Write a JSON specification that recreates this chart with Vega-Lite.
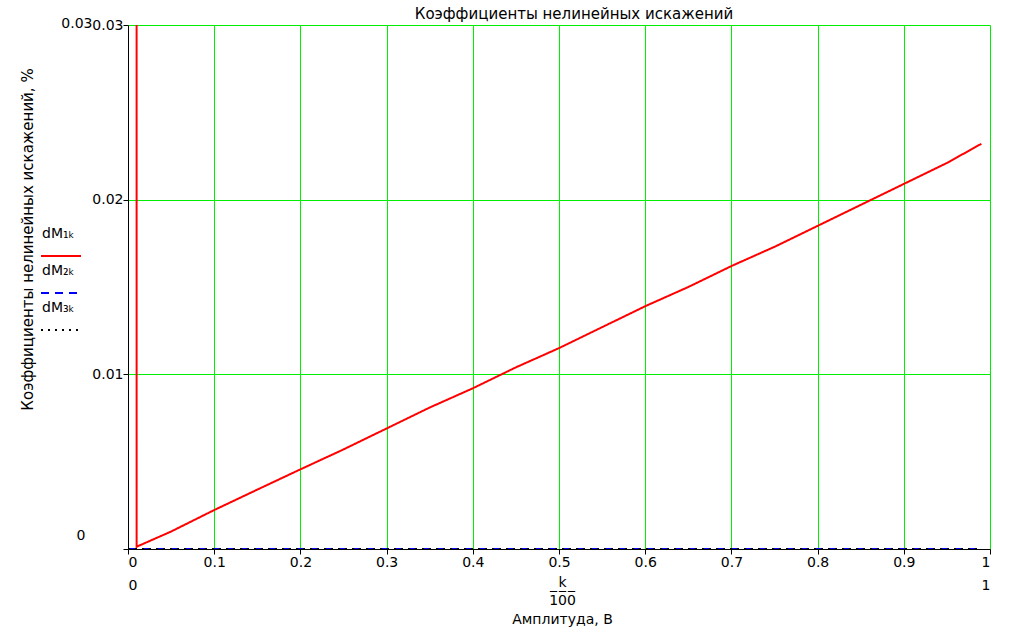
{
  "$schema": "https://vega.github.io/schema/vega-lite/v6.json",
  "width": 862,
  "height": 524,
  "autosize": {"type": "none"},
  "padding": {"left": 128, "top": 25, "right": 29, "bottom": 80},
  "background": "white",
  "config": {
    "view": {"stroke": null},
    "font": "DejaVu Sans",
    "style": {"guide-label": {"lineHeight": 44}},
    "axis": {"labelFont": "DejaVu Sans", "labelFontSize": 14, "labelColor": "black", "titleFont": "DejaVu Sans", "titleFontSize": 14, "titleFontWeight": "normal", "titleColor": "black", "domainColor": "black", "tickColor": "black"}
  },
  "title": {"text": "Коэффициенты нелинейных искажений", "font": "DejaVu Sans", "fontSize": 15, "fontWeight": "normal", "color": "black", "offset": 4, "dx": 15, "dy": 10},
  "data": {"values": [
    {"series": "dM1", "x": 0.0095, "y": 1},
    {"series": "dM1", "x": 0.01, "y": 0.00013},
    {"series": "dM1", "x": 0.05, "y": 0.0010},
    {"series": "dM1", "x": 0.1, "y": 0.00223},
    {"series": "dM1", "x": 0.15, "y": 0.0034},
    {"series": "dM1", "x": 0.2, "y": 0.00456},
    {"series": "dM1", "x": 0.25, "y": 0.0057},
    {"series": "dM1", "x": 0.3, "y": 0.0069},
    {"series": "dM1", "x": 0.35, "y": 0.0081},
    {"series": "dM1", "x": 0.4, "y": 0.0092},
    {"series": "dM1", "x": 0.45, "y": 0.0104},
    {"series": "dM1", "x": 0.5, "y": 0.0115},
    {"series": "dM1", "x": 0.55, "y": 0.0127},
    {"series": "dM1", "x": 0.6, "y": 0.0139},
    {"series": "dM1", "x": 0.65, "y": 0.0150},
    {"series": "dM1", "x": 0.7, "y": 0.0162},
    {"series": "dM1", "x": 0.75, "y": 0.0173},
    {"series": "dM1", "x": 0.8, "y": 0.0185},
    {"series": "dM1", "x": 0.85, "y": 0.0197},
    {"series": "dM1", "x": 0.9, "y": 0.0209},
    {"series": "dM1", "x": 0.95, "y": 0.0221},
    {"series": "dM1", "x": 0.99, "y": 0.0232},
    {"series": "dM2", "x": 0.0, "y": 0},
    {"series": "dM2", "x": 0.99, "y": 0},
    {"series": "dM3", "x": 0.0, "y": 0},
    {"series": "dM3", "x": 0.99, "y": 0}
  ]},
  "layer": [
    {
      "mark": {"type": "line", "clip": true, "strokeWidth": 2},
      "encoding": {
        "x": {"field": "x", "type": "quantitative", "scale": {"domain": [0, 1], "nice": false, "zero": false},
          "axis": {"values": [0, 0.1, 0.2, 0.3, 0.4, 0.5, 0.6, 0.7, 0.8, 0.9, 1], "format": ".1~f", "tickSize": 5, "labelPadding": 1, "grid": true, "gridColor": "#00ee00", "gridWidth": 1, "gridOpacity": 1,
            "title": ["k", "1̅0̅0̅", "Амплитуда, В"], "titleX": 434, "titleY": 26, "titleBaseline": "top", "titleAlign": "center", "titleAnchor": null, "titleLineHeight": 18.5}},
        "y": {"field": "y", "type": "quantitative", "scale": {"domain": [0, 0.03], "nice": false, "zero": false},
          "axis": {"values": [0, 0.01, 0.02, 0.03], "labelExpr": "datum.value == 0 ? '' : format(datum.value, '.2f')", "tickSize": 5, "labelPadding": 0, "grid": true, "gridColor": "#00ee00", "gridWidth": 1, "gridOpacity": 1,
            "title": "Коэффициенты нелинейных искажений, %", "titleFontSize": 15, "titleX": -101, "titleY": 214, "titleAngle": 270, "titleAlign": "center", "titleBaseline": "middle", "titleAnchor": null}},
        "color": {"field": "series", "type": "nominal", "scale": {"domain": ["dM1", "dM2", "dM3"], "range": ["#ff0000", "#0000ff", "#000000"]},
          "legend": {"title": null, "orient": "none", "legendX": -88, "legendY": 210, "symbolType": "stroke", "symbolSize": 1600, "symbolStrokeWidth": 2, "labelOffset": -40, "labelBaseline": "line-bottom", "labelFont": "DejaVu Sans", "labelFontSize": 14, "labelColor": "black", "rowPadding": 4,
            "labelExpr": "datum.value == 'dM1' ? 'dM₁ₖ' : datum.value == 'dM2' ? 'dM₂ₖ' : 'dM₃ₖ'"}},
        "strokeDash": {"field": "series", "type": "nominal", "scale": {"domain": ["dM1", "dM2", "dM3"], "range": [[1, 0], [8, 6], [2, 5]]},
          "legend": {"title": null, "orient": "none", "legendX": -88, "legendY": 210, "symbolType": "stroke", "symbolSize": 1600, "symbolStrokeWidth": 2, "labelOffset": -40, "labelBaseline": "line-bottom", "labelFont": "DejaVu Sans", "labelFontSize": 14, "labelColor": "black", "rowPadding": 4,
            "labelExpr": "datum.value == 'dM1' ? 'dM₁ₖ' : datum.value == 'dM2' ? 'dM₂ₖ' : 'dM₃ₖ'"}}
      }
    },
    {
      "transform": [{"filter": "datum.series == 'dM3'"}],
      "mark": {"type": "line", "opacity": 0},
      "encoding": {
        "x": {"field": "x", "type": "quantitative",
          "axis": {"orient": "bottom", "values": [0, 1], "format": ".1~f", "offset": 29, "domain": false, "ticks": false, "grid": false, "labelPadding": 0, "title": null}},
        "y": {"field": "y", "type": "quantitative",
          "axis": {"orient": "left", "values": [0, 0.03], "format": ".2~f", "offset": 34, "domain": false, "ticks": false, "grid": false, "labelPadding": {"condition": {"test": "datum.value == 0", "value": 9}, "value": 2}, "labelOffset": {"condition": {"test": "datum.value == 0", "value": -14}, "value": -2}, "title": null}}
      }
    }
  ],
  "resolve": {"axis": {"x": "independent", "y": "independent"}}
}
